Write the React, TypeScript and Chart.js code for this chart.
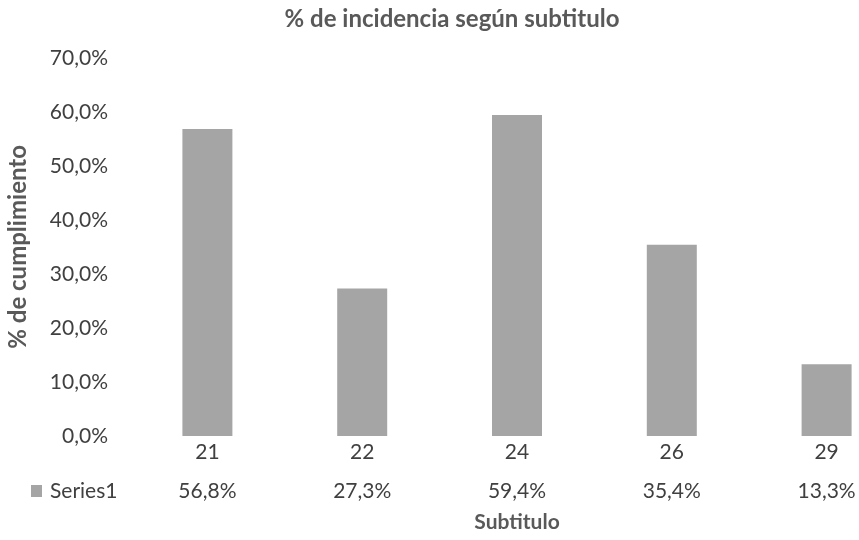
import React, { useEffect, useRef } from "react";
import { Chart, registerables } from "chart.js";

Chart.register(...registerables);

const categories = ["21", "22", "24", "26", "29"];
const values = [56.8, 27.3, 59.4, 35.4, 13.3];
const seriesName = "Series1";
const chartTitle = "% de incidencia según subtitulo";
const yTitle = "% de cumplimiento";
const xTitle = "Subtitulo";
const yMin = 0;
const yMax = 70;
const yStep = 10;

const FONT = "Lato, 'Open Sans', sans-serif";
const BAR = "#a5a5a5";
const TXT = "#404040";
const TITLE = "#595959";

const fmt = (v: number) => v.toFixed(1).replace(".", ",") + "%";

const dataTablePlugin = {
  id: "dataTable",
  afterDraw(chart: any) {
    const ctx = chart.ctx;
    const xs = chart.scales.x;
    const rowY = 491;
    ctx.save();
    ctx.font = `21px ${FONT}`;
    ctx.fillStyle = TXT;
    ctx.textBaseline = "middle";
    ctx.textAlign = "center";
    values.forEach((v, i) => {
      ctx.fillText(fmt(v), xs.getPixelForValue(i), rowY);
    });
    ctx.fillStyle = BAR;
    ctx.fillRect(31, rowY - 6, 11, 12);
    ctx.fillStyle = TXT;
    ctx.textAlign = "left";
    ctx.fillText(seriesName, 50, rowY);
    ctx.restore();
  },
};

export default function App() {
  const ref = useRef<HTMLCanvasElement>(null);
  useEffect(() => {
    if (!ref.current) return;
    const chart = new Chart(ref.current, {
      type: "bar",
      data: {
        labels: categories,
        datasets: [
          {
            label: seriesName,
            data: values,
            backgroundColor: BAR,
            categoryPercentage: 1,
            barPercentage: 0.323,
          },
        ],
      },
      options: {
        responsive: false,
        animation: false,
        layout: { padding: { left: 0, right: 1, top: 0, bottom: 0 } },
        plugins: {
          legend: { display: false },
          tooltip: { enabled: false },
          title: {
            display: true,
            text: chartTitle,
            color: TITLE,
            font: { family: FONT, size: 24, weight: "bold" },
            padding: { top: 5, bottom: 24 },
          },
        },
        scales: {
          x: {
            grid: { display: false },
            border: { display: false },
            ticks: {
              color: TXT,
              font: { family: FONT, size: 21 },
              padding: -4,
              maxRotation: 0,
            },
            title: {
              display: true,
              text: xTitle,
              color: TITLE,
              font: { family: FONT, size: 21, weight: "bold" },
              padding: { top: 0, bottom: 5 },
            },
            afterFit: (s: any) => {
              s.height = 104;
            },
          },
          y: {
            min: yMin,
            max: yMax,
            grid: { display: false },
            border: { display: false },
            ticks: {
              stepSize: yStep,
              color: TXT,
              font: { family: FONT, size: 21 },
              padding: 14,
              callback: (v: any) => fmt(Number(v)),
            },
            title: {
              display: true,
              text: yTitle,
              color: TITLE,
              font: { family: FONT, size: 24, weight: "bold" },
              padding: { top: 4, bottom: 0 },
            },
            afterFit: (s: any) => {
              s.width = 130;
            },
          },
        },
      },
      plugins: [dataTablePlugin],
    });
    return () => chart.destroy();
  }, []);
  return (
    <div
      style={{
        position: "fixed",
        left: 0,
        top: 0,
        width: 859,
        height: 540,
        overflow: "hidden",
        background: "#fff",
      }}
    >
      <canvas ref={ref} width={905} height={540} style={{ display: "block" }} />
    </div>
  );
}
